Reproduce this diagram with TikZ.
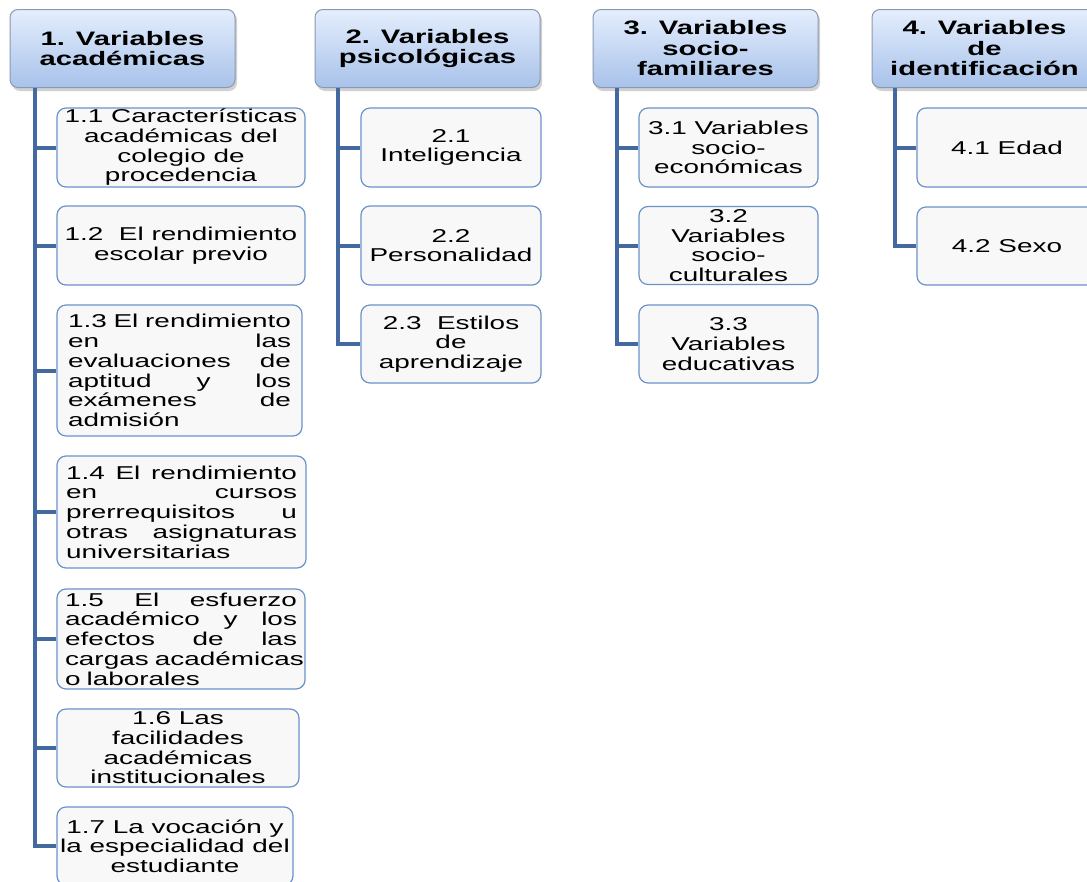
\documentclass[tikz,border=0pt]{standalone}
\usepackage{fontspec}
\newfontfamily\cfam[FakeStretch=1.5]{Liberation Sans}
\newfontfamily\hfam[FakeStretch=1.5]{Liberation Sans Bold}
\definecolor{hdrtop}{HTML}{E4EEFD}
\definecolor{hdrbot}{HTML}{A8C2EA}
\definecolor{hdrline}{HTML}{8A99B2}
\definecolor{chline}{HTML}{6A93CA}
\definecolor{chfill}{HTML}{F8F8F8}
\definecolor{lnc}{HTML}{4468A0}
\hyphenpenalty=10000
\exhyphenpenalty=10000
\tikzset{
  hdr/.style={draw=hdrline, line width=1pt, rounded corners=8pt, top color=hdrtop, bottom color=hdrbot,
    minimum width=225pt, minimum height=78pt, inner sep=0pt, align=center,
    font=\hfam\fontsize{19.5}{20.5}\selectfont},
  hshadow/.style={fill=black, opacity=0.18, rounded corners=8pt},
  child/.style={draw=chline, line width=1.2pt, rounded corners=9pt, fill=chfill,
    inner sep=0pt, align=center, font=\cfam\fontsize{18.6}{19.7}\selectfont},
  jchild/.style={child, align=left, inner ysep=0pt},
  conn/.style={draw=lnc, line width=4pt}
}
\begin{document}
\begin{tikzpicture}[x=1pt,y=-1pt]
\clip (0,0) rectangle (1087,881);
\fill[white] (0,0) rectangle (1087,881);
% header shadows
\fill[hshadow] (12,12) rectangle (237,91);
\fill[hshadow] (317,12) rectangle (542,91);
\fill[hshadow] (595,12) rectangle (820,91);
\fill[hshadow] (874,12) rectangle (1099,91);
% headers
\node[hdr] (h1) at (122.5,48.5) {1. Variables\\académicas};
\node[hdr] (h2) at (427.5,48.5) {2. Variables\\psicológicas};
\node[hdr] (h3) at (705.5,48.5) {3. Variables\\socio-\\familiares};
\node[hdr] (h4) at (984.5,48.5) {4. Variables\\de\\identificación};
% column 1
\node[child, minimum width=248pt, minimum height=79pt] (c11) at (181,147.5) {1.1 Características\\académicas del\\colegio de\\procedencia};
\node[child, minimum width=248pt, minimum height=79pt] (c12) at (181,245.5) {1.2\ \ El rendimiento\\escolar previo};
\node[jchild, minimum width=245pt, minimum height=131pt, text width=223pt, inner xsep=11pt] (c13) at (179.5,370.5)
  {1.3\hfill El\hfill rendimiento\\en\hfill las\\evaluaciones\hfill de\\aptitud\hfill y\hfill los\\exámenes\hfill de\\admisión};
\node[jchild, minimum width=249pt, minimum height=112pt, text width=231pt, inner xsep=9pt] (c14) at (181.5,512)
  {1.4\hfill El\hfill rendimiento\\en\hfill cursos\\prerrequisitos\hfill u\\otras\hfill asignaturas\\universitarias};
\node[jchild, minimum width=248pt, minimum height=100pt, text width=232pt, inner xsep=8pt] (c15) at (181,639)
  {1.5\hfill El\hfill esfuerzo\\académico\hfill y\hfill los\\efectos\hfill de\hfill las\\\mbox{cargas académicas}\\o laborales};
\node[child, minimum width=242pt, minimum height=78pt] (c16) at (178,748) {1.6 Las\\facilidades\\académicas\\institucionales};
\node[child, minimum width=236pt, minimum height=78pt] (c17) at (175,846) {1.7 La vocación y\\la especialidad del\\estudiante};
% column 2
\node[child, minimum width=180pt, minimum height=79pt] (c21) at (451,147.5) {2.1\\Inteligencia};
\node[child, minimum width=180pt, minimum height=79pt] (c22) at (451,245.5) {2.2\\Personalidad};
\node[child, minimum width=180pt, minimum height=78pt] (c23) at (451,344) {2.3\ \ Estilos\\de\\aprendizaje};
% column 3
\node[child, minimum width=179pt, minimum height=79pt] (c31) at (728.5,147.5) {3.1 Variables\\socio-\\económicas};
\node[child, minimum width=179pt, minimum height=78pt] (c32) at (728.5,245.5) {3.2\\Variables\\socio-\\culturales};
\node[child, minimum width=179pt, minimum height=78pt] (c33) at (728.5,344) {3.3\\Variables\\educativas};
% column 4
\node[child, minimum width=180pt, minimum height=79pt] (c41) at (1007,147.5) {4.1 Edad};
\node[child, minimum width=180pt, minimum height=78pt] (c42) at (1007,246) {4.2 Sexo};
% connectors
\coordinate (v1) at ([xshift=25pt]h1.south west);
\coordinate (v2) at ([xshift=23pt]h2.south west);
\coordinate (v3) at ([xshift=24pt]h3.south west);
\coordinate (v4) at ([xshift=23pt]h4.south west);
\foreach \c in {c11,c12,c13,c14,c15,c16,c17} \draw[conn] (v1) |- (\c.west);
\foreach \c in {c21,c22,c23} \draw[conn] (v2) |- (\c.west);
\foreach \c in {c31,c32,c33} \draw[conn] (v3) |- (\c.west);
\foreach \c in {c41,c42} \draw[conn] (v4) |- (\c.west);
\end{tikzpicture}
\end{document}
